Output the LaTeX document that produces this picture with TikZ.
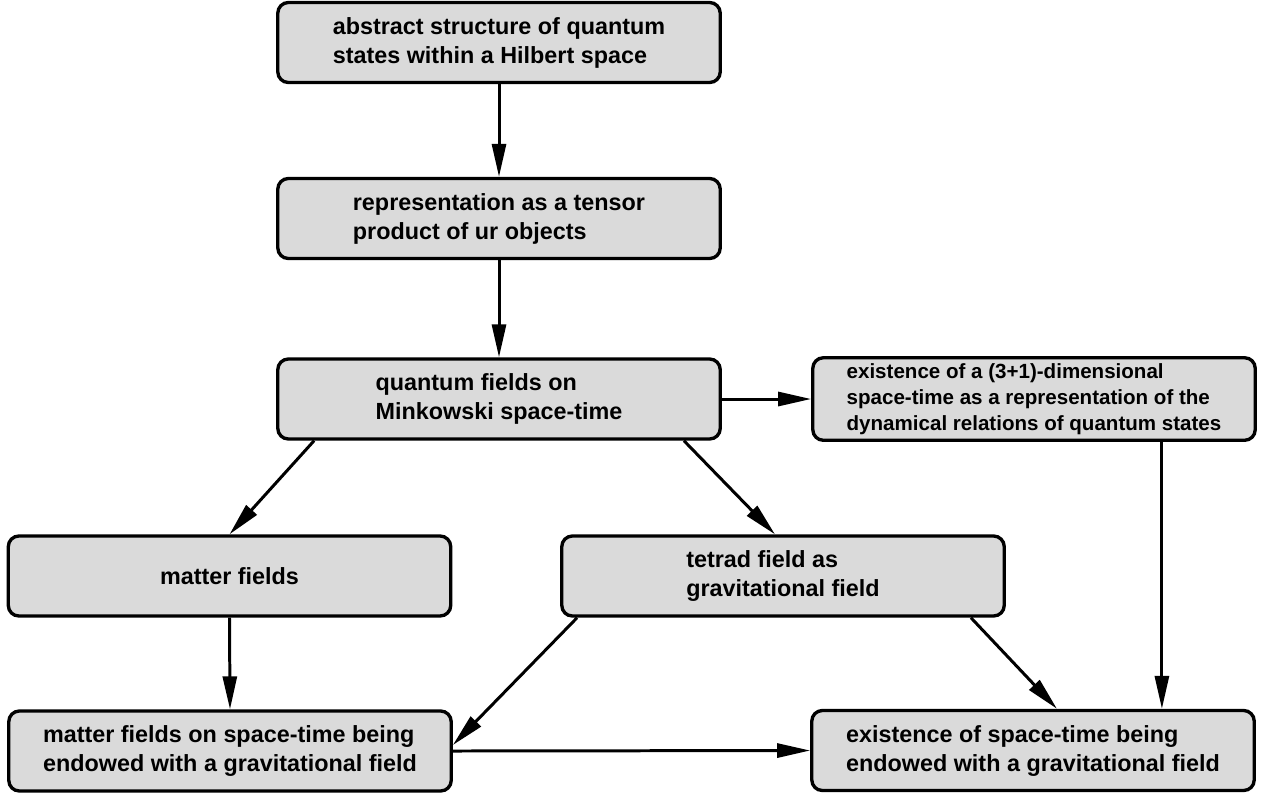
\documentclass[tikz,border=0pt]{standalone}
\usepackage{fontspec}
\setmainfont{Liberation Sans}
\usetikzlibrary{arrows.meta}
\definecolor{boxgray}{RGB}{218,218,218}
\begin{document}
\begin{tikzpicture}[x=0.02cm,y=-0.02cm,
    box/.style={draw,line width=1.9pt,fill=boxgray,rounded corners=6pt,
        minimum width=8.85cm,minimum height=1.6cm,align=left,
        font=\fontsize{13.3}{16.5}\selectfont\bfseries},
    smallbox/.style={box,font=\fontsize{11.7}{14.7}\selectfont\bfseries},
    arr/.style={-{Triangle[length=0.66cm,width=0.28cm]},line width=1.7pt}]
        \useasboundingbox(0,0)rectangle(1264,796);
        \node[box](hilbert)at(499,42.5){abstract structure of quantum\\states within a Hilbert space};
        \node[box](tensor)at(499,218.5){representation as a tensor\\product of ur objects};
        \node[box](minkowski)at(499,399){quantum fields on\\Minkowski space-time};
        \node[smallbox](dynamic)at(1034,399){existence of a (3+1)-dimensional\\space-time as a representation of the\\dynamical relations of quantum states};
        \node[box](matter)at(229.5,576){matter fields};
        \node[box](tetrad)at(783,576){tetrad field as\\gravitational field};
        \node[box](mattergrav)at(230,751){matter fields on space-time being\\endowed with a gravitational field};
        \node[box](spacegrav)at(1033,750.5){existence of space-time being\\endowed with a gravitational field};

        \draw[arr](hilbert.south)--(tensor.north);
        \draw[arr](tensor.south)--(minkowski.north);
        \draw[arr](minkowski.east)--(dynamic.west);
        \draw[arr]([xshift=0.76cm]minkowski.south west)--(matter.north);
        \draw[arr]([xshift=-0.76cm]minkowski.south east)--([xshift=-0.16cm]tetrad.north);
        \draw[arr](matter.south)--(mattergrav.north);
        \draw[arr]([xshift=0.34cm]tetrad.south west)--([yshift=0.12cm]mattergrav.east);
        \draw[arr](mattergrav.east)--(spacegrav.west);
        \draw[arr]([xshift=-0.7cm]tetrad.south east)--([xshift=0.48cm]spacegrav.north);
        \draw[arr]([xshift=-1.9cm]dynamic.south east)--([xshift=-1.9cm]dynamic.south east|-spacegrav.north);
    \end{tikzpicture}
\end{document}
